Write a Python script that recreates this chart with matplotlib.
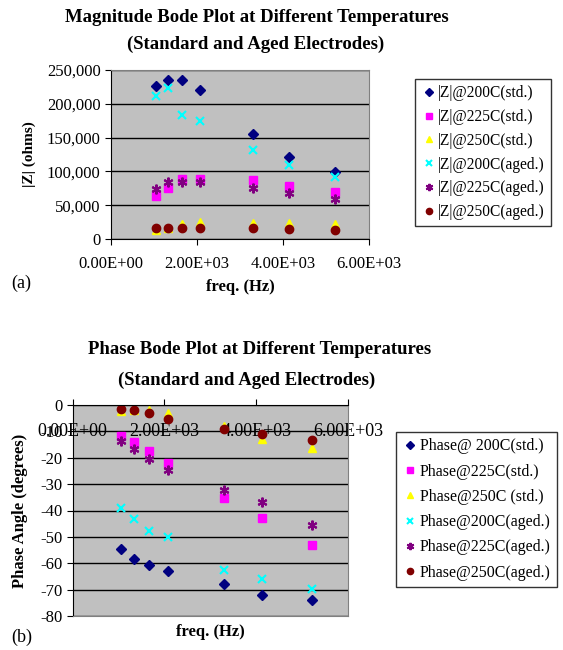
import matplotlib
matplotlib.use("Agg")
import matplotlib.pyplot as plt
from matplotlib.ticker import FuncFormatter, MultipleLocator

plt.rcParams["font.family"] = ["Liberation Serif", "DejaVu Serif"]

# measurement frequencies (Hz)
freq = [1050, 1330, 1660, 2080, 3300, 4130, 5210]

# |Z| in ohms
z_200_std = [227000, 235000, 235000, 221000, 156000, 122000, 99000]
z_225_std = [64000, 75000, 89000, 89000, 88000, 79000, 69000]
z_250_std = [14000, 17000, 22000, 25000, 24000, 23000, 22000]
z_200_aged = [211000, 224000, 184000, 174000, 131000, 109000, 91000]
z_225_aged = [74000, 84000, 85000, 85000, 75000, 68000, 59000]
z_250_aged = [16000, 17000, 16000, 16000, 16000, 15000, 14000]

# phase angle in degrees
ph_200_std = [-54.6, -58.4, -60.5, -62.8, -67.7, -71.9, -73.9]
ph_225_std = [-11.8, -14.2, -17.6, -21.9, -35.1, -42.9, -53.0]
ph_250_std = [-2.2, -1.8, -2.0, -3.0, -8.0, -12.9, -16.2]
ph_200_aged = [-39.0, -43.4, -47.6, -50.0, -62.4, -66.1, -69.9]
ph_225_aged = [-13.7, -16.6, -20.3, -24.7, -32.4, -36.8, -45.4]
ph_250_aged = [-1.5, -1.9, -3.2, -5.2, -9.1, -10.9, -13.2]

z_labels = ["|Z|@200C(std.)", "|Z|@225C(std.)", "|Z|@250C(std.)",
            "|Z|@200C(aged.)", "|Z|@225C(aged.)", "|Z|@250C(aged.)"]
ph_labels = ["Phase@ 200C(std.)", "Phase@225C(std.)", "Phase@250C (std.)",
             "Phase@200C(aged.)", "Phase@225C(aged.)", "Phase@250C(aged.)"]

styles = [
    dict(marker="D", color="#000080", ms=5),
    dict(marker="s", color="#FF00FF", ms=5.5),
    dict(marker="^", color="#FFFF00", ms=6),
    dict(marker="x", color="#00FFFF", ms=6, mew=1.5),
    dict(marker=(6, 2, 0), color="#800080", ms=7, mew=1.5),
    dict(marker="o", color="#800000", ms=6),
]

W, H = 563, 650
fig = plt.figure(figsize=(W / 100, H / 100), dpi=100)


def style_axes(ax):
    ax.set_facecolor("#C0C0C0")
    ax.set_axisbelow(True)
    ax.yaxis.grid(True, color="black", linewidth=1)
    for s in ax.spines.values():
        s.set_color("#808080")
    ax.tick_params(labelsize=12, length=4, color="black")
    ax.xaxis.set_major_formatter(FuncFormatter(lambda v, p: f"{v:.2E}"))
    ax.xaxis.set_major_locator(MultipleLocator(2000))


def add_legend(handles, x, y, size, spacing):
    leg = fig.legend(handles=handles, loc="upper left",
                     bbox_to_anchor=(x / W, 1 - y / H), borderaxespad=0,
                     fontsize=size, frameon=True, fancybox=False,
                     edgecolor="black", handletextpad=0.1, handlelength=1.0,
                     labelspacing=spacing, borderpad=0.4, markerscale=0.75)
    leg.get_frame().set_linewidth(1)
    return leg


# ---- (a) magnitude ----
ax1 = fig.add_axes([111 / W, 1 - 239 / H, 258 / W, 169 / H])
style_axes(ax1)
z_series = [z_200_std, z_225_std, z_250_std, z_200_aged, z_225_aged, z_250_aged]
handles = []
for vals, st, lab in zip(z_series, styles, z_labels):
    h, = ax1.plot(freq, vals, linestyle="none", label=lab, **st)
    handles.append(h)
ax1.set_xlim(0, 6000)
ax1.set_ylim(0, 250000)
ax1.yaxis.set_major_locator(MultipleLocator(50000))
ax1.yaxis.set_major_formatter(FuncFormatter(lambda v, p: f"{v:,.0f}"))
ax1.spines["left"].set_color("black")
ax1.spines["bottom"].set_color("black")
ax1.tick_params(axis="x", pad=8)
ax1.set_xlabel("freq. (Hz)", fontsize=12, fontweight="bold", labelpad=5)
ax1.set_ylabel("|Z| (ohms)", fontsize=11, fontweight="bold", labelpad=8)
fig.text(257 / W, 1 - 17 / H, "Magnitude Bode Plot at Different Temperatures",
         ha="center", va="center", fontsize=13.5, fontweight="bold")
fig.text(256 / W, 1 - 44 / H, "(Standard and Aged Electrodes)",
         ha="center", va="center", fontsize=13.5, fontweight="bold")
fig.text(11 / W, 1 - 283 / H, "(a)", ha="left", va="center", fontsize=13)
add_legend(handles, 415, 79, 11.2, 0.5)

# ---- (b) phase ----
ax2 = fig.add_axes([72.7 / W, 1 - 616 / H, 275.3 / W, 211 / H])
style_axes(ax2)
ph_series = [ph_200_std, ph_225_std, ph_250_std, ph_200_aged, ph_225_aged, ph_250_aged]
handles2 = []
for vals, st, lab in zip(ph_series, styles, ph_labels):
    h, = ax2.plot(freq, vals, linestyle="none", label=lab, **st)
    handles2.append(h)
ax2.set_xlim(0, 6000)
ax2.set_ylim(-80, 0)
ax2.yaxis.set_major_locator(MultipleLocator(10))
ax2.yaxis.set_major_formatter(FuncFormatter(lambda v, p: f"{v:.0f}"))
ax2.spines["left"].set_color("black")
ax2.spines["top"].set_color("black")
ax2.tick_params(axis="x", top=True, bottom=False, labeltop=True,
                labelbottom=False, pad=-29, labelsize=13)
ax2.set_xlabel("freq. (Hz)", fontsize=12, fontweight="bold", labelpad=6)
ax2.set_ylabel("Phase Angle (degrees)", fontsize=12, fontweight="bold", labelpad=9)
fig.text(260 / W, 1 - 350 / H, "Phase Bode Plot at Different Temperatures",
         ha="center", va="center", fontsize=13.5, fontweight="bold")
fig.text(247 / W, 1 - 380 / H, "(Standard and Aged Electrodes)",
         ha="center", va="center", fontsize=13.5, fontweight="bold")
fig.text(11 / W, 1 - 637 / H, "(b)", ha="left", va="center", fontsize=13)
add_legend(handles2, 396, 432, 11.5, 0.58)

fig.savefig("out.png", dpi=100)
